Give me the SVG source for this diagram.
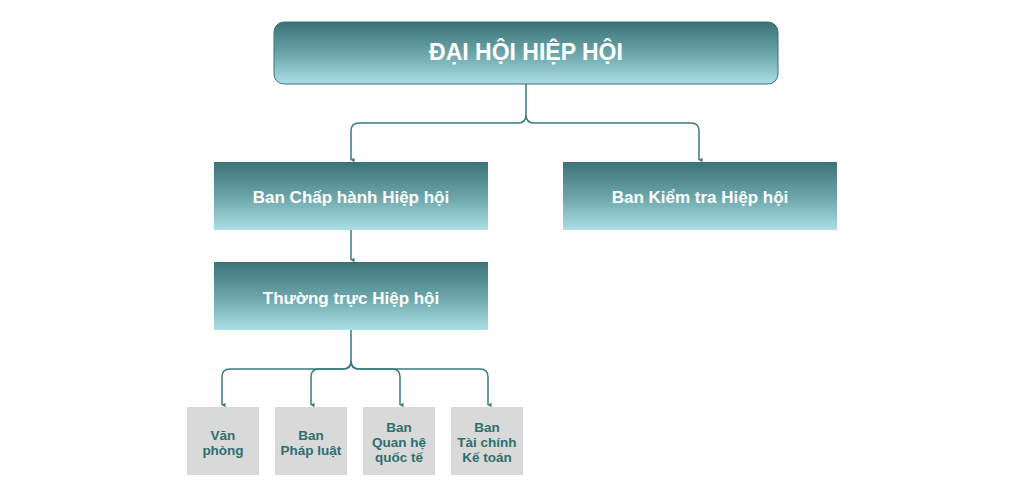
<svg xmlns="http://www.w3.org/2000/svg" width="1024" height="499" viewBox="0 0 1024 499">
<defs>
<linearGradient id="g" x1="0" y1="0" x2="0" y2="1">
<stop offset="0" stop-color="#3a7277"/>
<stop offset="0.5" stop-color="#6aa4a8"/>
<stop offset="1" stop-color="#aadfe5"/>
</linearGradient>
<marker id="arr" markerWidth="6" markerHeight="6" refX="3" refY="5" orient="auto" markerUnits="userSpaceOnUse" viewBox="0 0 6 6">
<path d="M0.8,1.5 L3,5.5 L5.2,1.5 Z" fill="#3b7a7e"/>
</marker>
<style>
.main{fill:url(#g);}
.wt{font-family:"Liberation Sans",Arial,sans-serif;font-weight:bold;fill:#ffffff;text-anchor:middle;}
.sm{fill:#d9d9d9;}
.st{font-family:"Liberation Sans",Arial,sans-serif;font-weight:bold;font-size:13.5px;fill:#2f6e71;text-anchor:middle;}
.c{fill:none;stroke:#3b7a7e;stroke-width:1.5;}
</style>
</defs>
<rect width="1024" height="499" fill="#ffffff"/>
<g id="connectors">
<path class="c" d="M526,84 V115 Q526,123 518,123 H359 Q351,123 351,131 V160" marker-end="url(#arr)"/>
<path class="c" d="M526,115 Q526,123 534,123 H691 Q699,123 699,131 V160" marker-end="url(#arr)"/>
<path class="c" d="M351,230 V260" marker-end="url(#arr)"/>
<path class="c" d="M351,330 V361 Q351,369 343,369 H230 Q222,369 222,377 V405" marker-end="url(#arr)"/>
<path class="c" d="M351,361 Q351,369 343,369 H319 Q311,369 311,377 V405" marker-end="url(#arr)"/>
<path class="c" d="M351,361 Q351,369 359,369 H392 Q400,369 400,377 V405" marker-end="url(#arr)"/>
<path class="c" d="M351,361 Q351,369 359,369 H480 Q488,369 488,377 V405" marker-end="url(#arr)"/>
</g>
<g id="dai-hoi">
<rect class="main" x="274" y="22" width="504" height="62" rx="10" stroke="#3a7277" stroke-width="1"/>
<text class="wt" x="526" y="60" font-size="23">ĐẠI HỘI HIỆP HỘI</text>
</g>
<g id="ban-chap-hanh">
<rect class="main" x="214" y="162" width="274" height="68"/>
<text class="wt" x="351" y="203" font-size="17">Ban Chấp hành Hiệp hội</text>
</g>
<g id="ban-kiem-tra">
<rect class="main" x="563" y="162" width="274" height="68"/>
<text class="wt" x="700" y="203" font-size="17">Ban Kiểm tra Hiệp hội</text>
</g>
<g id="thuong-truc">
<rect class="main" x="214" y="262" width="274" height="68"/>
<text class="wt" x="351" y="304" font-size="17">Thường trực Hiệp hội</text>
</g>
<g id="van-phong">
<rect class="sm" x="187" y="407" width="72" height="68"/>
<text class="st" x="223" y="440">Văn</text>
<text class="st" x="223" y="455">phòng</text>
</g>
<g id="phap-luat">
<rect class="sm" x="275" y="407" width="72" height="68"/>
<text class="st" x="311" y="440">Ban</text>
<text class="st" x="311" y="455">Pháp luật</text>
</g>
<g id="quan-he">
<rect class="sm" x="363" y="407" width="72" height="68"/>
<text class="st" x="399" y="432">Ban</text>
<text class="st" x="399" y="447">Quan hệ</text>
<text class="st" x="399" y="462">quốc tế</text>
</g>
<g id="tai-chinh">
<rect class="sm" x="451" y="407" width="72" height="68"/>
<text class="st" x="487" y="432">Ban</text>
<text class="st" x="487" y="447">Tài chính</text>
<text class="st" x="487" y="462">Kế toán</text>
</g>
</svg>
